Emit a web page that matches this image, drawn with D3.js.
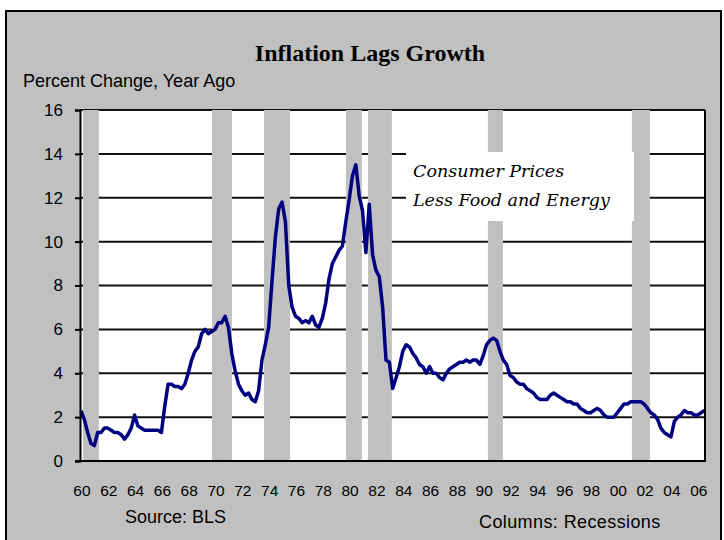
<!DOCTYPE html>
<html>
<head>
<meta charset="utf-8">
<script src="https://cdn.jsdelivr.net/npm/d3@7"></script>
<style>
  body { margin: 0; background: #ffffff; }
</style>
</head>
<body>
<script>
'use strict';

// core CPI, percent change year ago, quarterly readings starting 1960 Q1
const startYear = 1960;
const perYear = 4;
const coreCpi = [
  2.3, 1.9, 1.3, 0.8,   // 1960
  0.7, 1.3, 1.3, 1.5,   // 1961
  1.5, 1.4, 1.3, 1.3,   // 1962
  1.2, 1.0, 1.2, 1.5,   // 1963
  2.1, 1.6, 1.5, 1.4,   // 1964
  1.4, 1.4, 1.4, 1.4,   // 1965
  1.3, 2.5, 3.5, 3.5,   // 1966
  3.4, 3.4, 3.3, 3.5,   // 1967
  4.0, 4.6, 5.0, 5.2,   // 1968
  5.8, 6.0, 5.8, 5.9,   // 1969
  6.0, 6.3, 6.3, 6.6,   // 1970
  6.1, 4.9, 4.1, 3.5,   // 1971
  3.2, 3.0, 3.1, 2.8,   // 1972
  2.7, 3.2, 4.6, 5.3,   // 1973
  6.1, 8.2, 10.2, 11.5, // 1974
  11.8, 10.9, 8.0, 7.0, // 1975
  6.6, 6.5, 6.3, 6.4,   // 1976
  6.3, 6.6, 6.2, 6.1,   // 1977
  6.5, 7.2, 8.3, 9.0,   // 1978
  9.3, 9.6, 9.8, 10.9,  // 1979
  11.9, 13.0, 13.5, 12.1, // 1980
  11.4, 9.5, 11.7, 9.4, // 1981
  8.7, 8.4, 7.0, 4.6,   // 1982
  4.5, 3.3, 3.8, 4.3,   // 1983
  5.0, 5.3, 5.2, 4.9,   // 1984
  4.7, 4.4, 4.3, 4.0,   // 1985
  4.3, 4.0, 4.0, 3.8,   // 1986
  3.7, 4.0, 4.2, 4.3,   // 1987
  4.4, 4.5, 4.5, 4.6,   // 1988
  4.5, 4.6, 4.6, 4.4,   // 1989
  4.8, 5.3, 5.5, 5.6,   // 1990
  5.5, 5.0, 4.6, 4.4,   // 1991
  3.9, 3.8, 3.6, 3.5,   // 1992
  3.5, 3.3, 3.2, 3.1,   // 1993
  2.9, 2.8, 2.8, 2.8,   // 1994
  3.0, 3.1, 3.0, 2.9,   // 1995
  2.8, 2.7, 2.7, 2.6,   // 1996
  2.6, 2.4, 2.3, 2.2,   // 1997
  2.2, 2.3, 2.4, 2.3,   // 1998
  2.1, 2.0, 2.0, 2.0,   // 1999
  2.2, 2.4, 2.6, 2.6,   // 2000
  2.7, 2.7, 2.7, 2.7,   // 2001
  2.6, 2.4, 2.2, 2.1,   // 2002
  1.9, 1.5, 1.3, 1.2,   // 2003
  1.1, 1.8, 2.0, 2.1,   // 2004
  2.3, 2.2, 2.2, 2.1,   // 2005
  2.1, 2.2, 2.3         // 2006
];

// recession periods (start, end) in decimal years
const recessionStart = [1960.15, 1969.77, 1973.65, 1979.76, 1981.40, 1990.35, 2001.09];
const recessionEnd   = [1961.34, 1971.26, 1975.59, 1980.95, 1983.19, 1991.47, 2002.43];

const xTickYears = d3.range(1960, 2007, 2);
const yTicks = [0, 2, 4, 6, 8, 10, 12, 14, 16];

(function() {

  let svgContainer = "";
  const sans = 'Liberation Sans, Arial, sans-serif';

  window.onload = function() {
    svgContainer = d3.select('body')
      .append('svg')
      .attr('width', 724)
      .attr('height', 540);
    makeChart();
  }

  function makeChart() {
    // grey panel with black frame
    svgContainer.append('rect')
      .attr('x', 6)
      .attr('y', 11)
      .attr('width', 715)
      .attr('height', 545)
      .attr('fill', '#c0c0c0')
      .attr('stroke', '#000')
      .attr('stroke-width', 2);

    let left = 80, right = 705, top = 110, bottom = 461;

    let xScale = d3.scaleLinear()
      .domain([1959.93, 2006.54])
      .range([left, right]);
    let yScale = d3.scaleLinear()
      .domain([0, 16])
      .range([bottom, top]);

    // white plot area
    svgContainer.append('rect')
      .attr('x', left)
      .attr('y', top)
      .attr('width', right - left)
      .attr('height', bottom - top)
      .attr('fill', '#fff');

    // horizontal gridlines
    svgContainer.selectAll('.grid')
      .data(yTicks.filter((d) => d > 0))
      .enter()
      .append('line')
        .attr('x1', left)
        .attr('x2', right)
        .attr('y1', (d) => yScale(d))
        .attr('y2', (d) => yScale(d))
        .attr('stroke', '#111')
        .attr('stroke-width', 2);

    // recession columns
    svgContainer.selectAll('.rec')
      .data(recessionStart)
      .enter()
      .append('rect')
        .attr('x', (d) => xScale(d))
        .attr('y', top)
        .attr('width', (d, i) => xScale(recessionEnd[i]) - xScale(d))
        .attr('height', bottom - top)
        .attr('fill', '#c0c0c0');

    // annotation box
    svgContainer.append('rect')
      .attr('x', 406)
      .attr('y', 152)
      .attr('width', 228)
      .attr('height', 69)
      .attr('fill', '#fff');
    svgContainer.append('text')
      .attr('x', 413)
      .attr('y', 177)
      .style('font-family', 'DejaVu Serif')
      .style('font-style', 'italic')
      .style('font-size', '17.5px')
      .text('Consumer Prices');
    svgContainer.append('text')
      .attr('x', 413)
      .attr('y', 206)
      .style('font-family', 'DejaVu Serif')
      .style('font-style', 'italic')
      .style('font-size', '17.5px')
      .text('Less Food and Energy');

    // the series line
    let line = d3.line()
      .x((d, i) => xScale(startYear + i / perYear))
      .y((d) => yScale(d));
    svgContainer.append('path')
      .attr('d', line(coreCpi))
      .attr('fill', 'none')
      .attr('stroke', '#000080')
      .attr('stroke-width', 3.5)
      .attr('stroke-linejoin', 'round');

    // axes
    let yAxis = d3.axisLeft(yScale)
      .tickValues(yTicks)
      .tickSize(5)
      .tickPadding(12)
      .tickFormat(d3.format('d'));
    let yg = svgContainer.append('g')
      .attr('transform', 'translate(' + left + ',0)')
      .call(yAxis);
    yg.select('.domain').attr('stroke', '#000').attr('stroke-width', 2);
    yg.selectAll('.tick line').attr('stroke', '#000').attr('stroke-width', 2);
    yg.selectAll('text')
      .style('font-family', sans)
      .style('font-size', '17px')
      .attr('fill', '#000');

    // bottom axis line and right border
    svgContainer.append('line')
      .attr('x1', left - 5).attr('x2', right + 1)
      .attr('y1', bottom).attr('y2', bottom)
      .attr('stroke', '#000').attr('stroke-width', 2);
    svgContainer.append('line')
      .attr('x1', right).attr('x2', right)
      .attr('y1', top).attr('y2', bottom)
      .attr('stroke', '#000').attr('stroke-width', 2);

    // year labels
    svgContainer.selectAll('.xlab')
      .data(xTickYears)
      .enter()
      .append('text')
        .attr('x', (d) => xScale(d) + 1)
        .attr('y', 496)
        .attr('text-anchor', 'middle')
        .style('font-family', sans)
        .style('font-size', '15.5px')
        .text((d) => String(d % 100).padStart(2, '0'));

    // titles and notes
    svgContainer.append('text')
      .attr('x', 370)
      .attr('y', 61)
      .attr('text-anchor', 'middle')
      .style('font-family', 'Liberation Serif, serif')
      .style('font-weight', 'bold')
      .style('font-size', '24px')
      .text('Inflation Lags Growth');
    svgContainer.append('text')
      .attr('x', 23)
      .attr('y', 87)
      .style('font-family', sans)
      .style('font-size', '18px')
      .text('Percent Change, Year Ago');
    svgContainer.append('text')
      .attr('x', 125)
      .attr('y', 523)
      .style('font-family', sans)
      .style('font-size', '18px')
      .text('Source: BLS');
    svgContainer.append('text')
      .attr('x', 479)
      .attr('y', 528)
      .style('font-family', sans)
      .style('font-size', '18px')
      .style('letter-spacing', '0.4px')
      .text('Columns: Recessions');
  }
})();
</script>
</body>
</html>
